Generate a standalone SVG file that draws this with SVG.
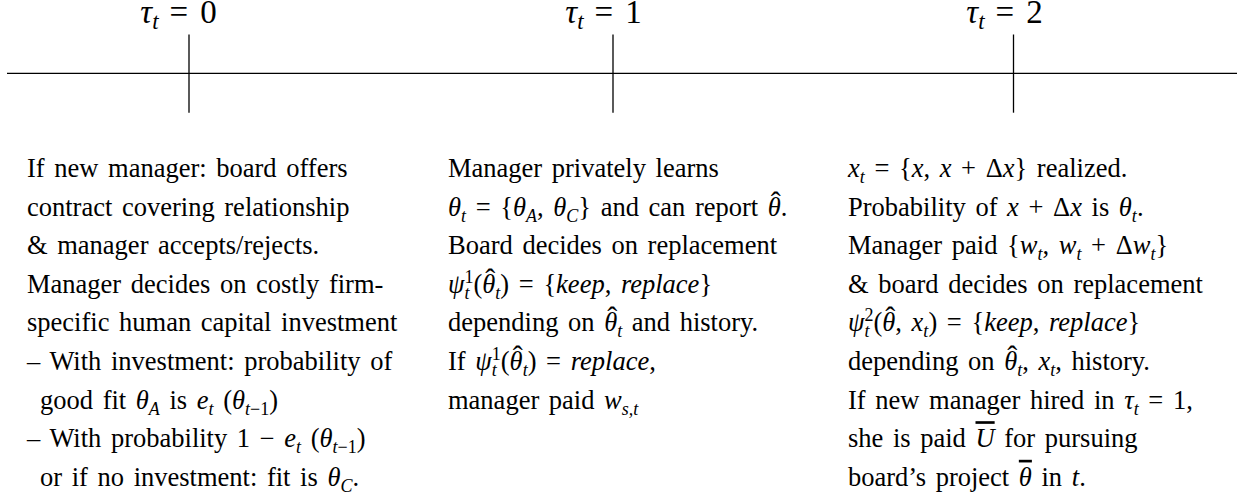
<svg xmlns="http://www.w3.org/2000/svg" width="1237" height="492" viewBox="0 0 1237 492">
<style>
.t{font-family:"Liberation Serif","Times New Roman",serif;font-size:26.5px;fill:#000;word-spacing:3px}
.lbl{font-family:"Liberation Serif","Times New Roman",serif;font-size:33px;fill:#000}
.i{font-style:italic}
.s{font-size:18px}
.h{font-size:30px;font-style:normal}
.ln{stroke:#000;stroke-width:1.3;fill:none}
</style>
<g id="connectors">
<line class="ln" x1="7" y1="73.3" x2="1237" y2="73.3"/>
<line class="ln" x1="189" y1="34.5" x2="189" y2="112.7"/>
<line class="ln" x1="613" y1="34.5" x2="613" y2="112.7"/>
<line class="ln" x1="1013.5" y1="34.5" x2="1013.5" y2="112.7"/>
</g>
<g id="label0"><text class="lbl" x="178.5" y="23" text-anchor="middle"><tspan class="i">τ</tspan><tspan class="i" font-size="23" dy="6">t</tspan><tspan dy="-6" dx="11">=</tspan><tspan dx="12">0</tspan></text></g>
<g id="label1"><text class="lbl" x="603.5" y="23" text-anchor="middle"><tspan class="i">τ</tspan><tspan class="i" font-size="23" dy="6">t</tspan><tspan dy="-6" dx="11">=</tspan><tspan dx="12">1</tspan></text></g>
<g id="label2"><text class="lbl" x="1004.5" y="23" text-anchor="middle"><tspan class="i">τ</tspan><tspan class="i" font-size="23" dy="6">t</tspan><tspan dy="-6" dx="11">=</tspan><tspan dx="12">2</tspan></text></g>
<g id="col0">
<text class="t" x="27" y="177">If new manager: board offers</text>
<text class="t" x="27" y="215.6">contract covering relationship</text>
<text class="t" x="27" y="254">&amp; manager accepts/rejects.</text>
<text class="t" x="27" y="292.8">Manager decides on costly firm-</text>
<text class="t" x="27" y="331.4">specific human capital investment</text>
<text class="t" x="27" y="370">– With investment: probability of</text>
<text class="t" x="40" y="408.6">good fit <tspan class="i">θ</tspan><tspan class="i s" dy="6">A</tspan><tspan dy="-6"> is </tspan><tspan class="i">e</tspan><tspan class="i s" dy="6">t</tspan><tspan dy="-6"> (</tspan><tspan class="i">θ</tspan><tspan class="s" dy="6"><tspan class="i">t</tspan>−1</tspan><tspan dy="-6">)</tspan></text>
<text class="t" x="27" y="447.2">– With probability 1 − <tspan class="i">e</tspan><tspan class="i s" dy="6">t</tspan><tspan dy="-6"> (</tspan><tspan class="i">θ</tspan><tspan class="s" dy="6"><tspan class="i">t</tspan>−1</tspan><tspan dy="-6">)</tspan></text>
<text class="t" x="40" y="485.8">or if no investment: fit is <tspan class="i">θ</tspan><tspan class="i s" dy="6">C</tspan><tspan dy="-6">.</tspan></text>
</g>
<g id="col1">
<text class="t" x="448" y="177">Manager privately learns</text>
<text class="t" x="448" y="215.6"><tspan class="i">θ</tspan><tspan class="i s" dy="6">t</tspan><tspan dy="-6"> = {</tspan><tspan class="i">θ</tspan><tspan class="i s" dy="6">A</tspan><tspan dy="-6">, </tspan><tspan class="i">θ</tspan><tspan class="i s" dy="6">C</tspan><tspan dy="-6">} and can report </tspan><tspan class="i">θ</tspan><tspan class="h" dx="-10" dy="-4">ˆ</tspan><tspan dy="4">.</tspan></text>
<text class="t" x="448" y="254">Board decides on replacement</text>
<text class="t" x="448" y="292.8"><tspan class="i">ψ</tspan><tspan class="s" dy="-10">1</tspan><tspan class="i s" dx="-9" dy="16">t</tspan><tspan dx="4" dy="-6">(</tspan><tspan class="i">θ</tspan><tspan class="h" dx="-10" dy="-4">ˆ</tspan><tspan class="i s" dy="10">t</tspan><tspan dy="-6">) = {</tspan><tspan class="i">keep</tspan><tspan>, </tspan><tspan class="i">replace</tspan><tspan>}</tspan></text>
<text class="t" x="448" y="331.4">depending on <tspan class="i">θ</tspan><tspan class="h" dx="-10" dy="-4">ˆ</tspan><tspan class="i s" dy="10">t</tspan><tspan dy="-6"> and history.</tspan></text>
<text class="t" x="448" y="370">If <tspan class="i">ψ</tspan><tspan class="s" dy="-10">1</tspan><tspan class="i s" dx="-9" dy="16">t</tspan><tspan dx="4" dy="-6">(</tspan><tspan class="i">θ</tspan><tspan class="h" dx="-10" dy="-4">ˆ</tspan><tspan class="i s" dy="10">t</tspan><tspan dy="-6">) = </tspan><tspan class="i">replace</tspan><tspan>,</tspan></text>
<text class="t" x="448" y="408.6">manager paid <tspan class="i">w</tspan><tspan class="i s" dy="6">s,t</tspan></text>
</g>
<g id="col2">
<text class="t" x="848" y="177"><tspan class="i">x</tspan><tspan class="i s" dy="6">t</tspan><tspan dy="-6"> = {</tspan><tspan class="i">x</tspan><tspan>, </tspan><tspan class="i">x</tspan><tspan> + Δ</tspan><tspan class="i">x</tspan><tspan>} realized.</tspan></text>
<text class="t" x="848" y="215.6">Probability of <tspan class="i">x</tspan><tspan> + Δ</tspan><tspan class="i">x</tspan><tspan> is </tspan><tspan class="i">θ</tspan><tspan class="i s" dy="6">t</tspan><tspan dy="-6">.</tspan></text>
<text class="t" x="848" y="254">Manager paid {<tspan class="i">w</tspan><tspan class="i s" dy="6">t</tspan><tspan dy="-6">, </tspan><tspan class="i">w</tspan><tspan class="i s" dy="6">t</tspan><tspan dy="-6"> + Δ</tspan><tspan class="i">w</tspan><tspan class="i s" dy="6">t</tspan><tspan dy="-6">}</tspan></text>
<text class="t" x="848" y="292.8">&amp; board decides on replacement</text>
<text class="t" x="848" y="331.4"><tspan class="i">ψ</tspan><tspan class="s" dy="-10">2</tspan><tspan class="i s" dx="-9" dy="16">t</tspan><tspan dx="4" dy="-6">(</tspan><tspan class="i">θ</tspan><tspan class="h" dx="-10" dy="-4">ˆ</tspan><tspan dy="4">, </tspan><tspan class="i">x</tspan><tspan class="i s" dy="6">t</tspan><tspan dy="-6">) = {</tspan><tspan class="i">keep</tspan><tspan>, </tspan><tspan class="i">replace</tspan><tspan>}</tspan></text>
<text class="t" x="848" y="370">depending on <tspan class="i">θ</tspan><tspan class="h" dx="-10" dy="-4">ˆ</tspan><tspan class="i s" dy="10">t</tspan><tspan dy="-6">, </tspan><tspan class="i">x</tspan><tspan class="i s" dy="6">t</tspan><tspan dy="-6">, history.</tspan></text>
<text class="t" x="848" y="408.6">If new manager hired in <tspan class="i">τ</tspan><tspan class="i s" dy="6">t</tspan><tspan dy="-6"> = 1,</tspan></text>
<text class="t" x="848" y="447.2">she is paid <tspan class="i" text-decoration="overline">U</tspan><tspan> for pursuing</tspan></text>
<text class="t" x="848" y="485.8">board’s project <tspan class="i" text-decoration="overline">θ</tspan><tspan> in </tspan><tspan class="i">t</tspan><tspan>.</tspan></text>
</g>
</svg>
